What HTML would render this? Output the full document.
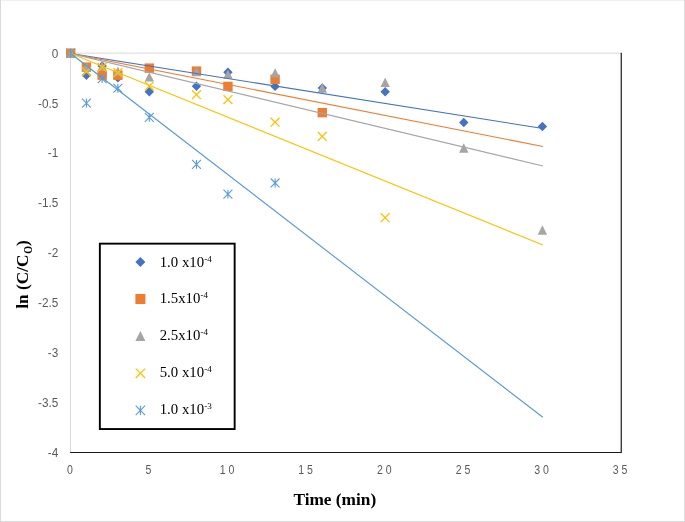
<!DOCTYPE html>
<html><head><meta charset="utf-8"><title>chart</title>
<style>
html,body{margin:0;padding:0;background:#fff;}
body{width:685px;height:522px;overflow:hidden;position:relative;font-family:"Liberation Sans",sans-serif;}
svg{position:absolute;left:0;top:0;display:block;will-change:transform;}
.tk{font-family:"Liberation Sans",sans-serif;font-size:12px;fill:#595959;}
.xt{letter-spacing:3.3px;}
.lg{font-family:"Liberation Serif",serif;font-size:14.8px;fill:#000;}
.sup{font-size:9px;}
.ti{font-family:"Liberation Serif",serif;font-weight:bold;font-size:17.3px;fill:#000;}
</style></head><body>
<svg width="685" height="522" viewBox="0 0 685 522">

<rect x="0" y="0" width="685" height="1" fill="#F0F0F0"/>
<rect x="0" y="0" width="1" height="522" fill="#D9D9D9"/>
<rect x="684" y="0" width="1" height="522" fill="#DCDCDC"/>
<rect x="0" y="521" width="685" height="1" fill="#D9D9D9"/>
<line x1="70.7" y1="53.15" x2="621.0" y2="53.15" stroke="#D9D9D9" stroke-width="1"/>
<line x1="70.55" y1="53.15" x2="70.55" y2="452.5" stroke="#D9D9D9" stroke-width="1"/>
<path d="M621.25 52.75L621.25 452.5L70.1 452.5" stroke="#1a1a1a" stroke-width="1.2" fill="none"/>
<text class="tk" transform="translate(58.3,57.5) scale(0.98,1)" text-anchor="end">0</text>
<text class="tk" transform="translate(58.3,107.5) scale(0.98,1)" text-anchor="end">-0.5</text>
<text class="tk" transform="translate(58.3,157.4) scale(0.98,1)" text-anchor="end">-1</text>
<text class="tk" transform="translate(58.3,207.3) scale(0.98,1)" text-anchor="end">-1.5</text>
<text class="tk" transform="translate(58.3,257.2) scale(0.98,1)" text-anchor="end">-2</text>
<text class="tk" transform="translate(58.3,307.1) scale(0.98,1)" text-anchor="end">-2.5</text>
<text class="tk" transform="translate(58.3,357.1) scale(0.98,1)" text-anchor="end">-3</text>
<text class="tk" transform="translate(58.3,407.0) scale(0.98,1)" text-anchor="end">-3.5</text>
<text class="tk" transform="translate(58.3,456.9) scale(0.98,1)" text-anchor="end">-4</text>
<text class="tk xt" transform="translate(71.3,474.2) scale(0.88,1)" text-anchor="middle">0</text>
<text class="tk xt" transform="translate(149.9,474.2) scale(0.88,1)" text-anchor="middle">5</text>
<text class="tk xt" transform="translate(228.5,474.2) scale(0.88,1)" text-anchor="middle">10</text>
<text class="tk xt" transform="translate(307.1,474.2) scale(0.88,1)" text-anchor="middle">15</text>
<text class="tk xt" transform="translate(385.8,474.2) scale(0.88,1)" text-anchor="middle">20</text>
<text class="tk xt" transform="translate(464.4,474.2) scale(0.88,1)" text-anchor="middle">25</text>
<text class="tk xt" transform="translate(543.0,474.2) scale(0.88,1)" text-anchor="middle">30</text>
<text class="tk xt" transform="translate(621.6,474.2) scale(0.88,1)" text-anchor="middle">35</text>
<path d="M70.70 48.45L75.40 53.15L70.70 57.85L66.00 53.15Z" fill="#4472C4"/>
<path d="M86.42 70.51L91.12 75.21L86.42 79.91L81.72 75.21Z" fill="#4472C4"/>
<path d="M102.15 61.23L106.85 65.93L102.15 70.63L97.45 65.93Z" fill="#4472C4"/>
<path d="M117.87 73.01L122.57 77.71L117.87 82.41L113.17 77.71Z" fill="#4472C4"/>
<path d="M149.31 86.99L154.01 91.69L149.31 96.39L144.61 91.69Z" fill="#4472C4"/>
<path d="M196.48 81.60L201.18 86.30L196.48 91.00L191.78 86.30Z" fill="#4472C4"/>
<path d="M227.93 67.62L232.63 72.32L227.93 77.02L223.23 72.32Z" fill="#4472C4"/>
<path d="M275.10 81.70L279.80 86.40L275.10 91.10L270.40 86.40Z" fill="#4472C4"/>
<path d="M322.27 83.29L326.97 87.99L322.27 92.69L317.57 87.99Z" fill="#4472C4"/>
<path d="M385.16 86.99L389.86 91.69L385.16 96.39L380.46 91.69Z" fill="#4472C4"/>
<path d="M463.77 117.84L468.47 122.54L463.77 127.24L459.07 122.54Z" fill="#4472C4"/>
<path d="M542.39 121.73L547.09 126.43L542.39 131.13L537.69 126.43Z" fill="#4472C4"/>
<rect x="66.00" y="48.45" width="9.40" height="9.40" fill="#ED7D31"/>
<rect x="81.72" y="62.43" width="9.40" height="9.40" fill="#ED7D31"/>
<rect x="97.45" y="70.46" width="9.40" height="9.40" fill="#ED7D31"/>
<rect x="113.17" y="70.47" width="9.40" height="9.40" fill="#ED7D31"/>
<rect x="144.61" y="63.43" width="9.40" height="9.40" fill="#ED7D31"/>
<rect x="191.78" y="66.42" width="9.40" height="9.40" fill="#ED7D31"/>
<rect x="223.23" y="81.70" width="9.40" height="9.40" fill="#ED7D31"/>
<rect x="270.40" y="74.61" width="9.40" height="9.40" fill="#ED7D31"/>
<rect x="317.57" y="107.95" width="9.40" height="9.40" fill="#ED7D31"/>
<path d="M70.70 48.45L75.40 57.85L66.00 57.85Z" fill="#A5A5A5"/>
<path d="M86.42 62.23L91.12 71.63L81.72 71.63Z" fill="#A5A5A5"/>
<path d="M102.15 61.43L106.85 70.83L97.45 70.83Z" fill="#A5A5A5"/>
<path d="M117.87 66.42L122.57 75.82L113.17 75.82Z" fill="#A5A5A5"/>
<path d="M149.31 72.21L154.01 81.61L144.61 81.61Z" fill="#A5A5A5"/>
<path d="M196.48 66.92L201.18 76.32L191.78 76.32Z" fill="#A5A5A5"/>
<path d="M227.93 69.42L232.63 78.82L223.23 78.82Z" fill="#A5A5A5"/>
<path d="M275.10 68.22L279.80 77.62L270.40 77.62Z" fill="#A5A5A5"/>
<path d="M322.27 83.29L326.97 92.69L317.57 92.69Z" fill="#A5A5A5"/>
<path d="M385.16 77.50L389.86 86.90L380.46 86.90Z" fill="#A5A5A5"/>
<path d="M463.77 143.30L468.47 152.70L459.07 152.70Z" fill="#A5A5A5"/>
<path d="M542.39 225.36L547.09 234.76L537.69 234.76Z" fill="#A5A5A5"/>
<path d="M66.25 48.70L75.15 57.60M66.25 57.60L75.15 48.70" stroke="#FFC000" stroke-width="1.3" fill="none"/>
<path d="M81.97 67.27L90.87 76.17M81.97 76.17L90.87 67.27" stroke="#FFC000" stroke-width="1.3" fill="none"/>
<path d="M97.70 62.98L106.60 71.88M97.70 71.88L106.60 62.98" stroke="#FFC000" stroke-width="1.3" fill="none"/>
<path d="M113.42 68.27L122.32 77.17M113.42 77.17L122.32 68.27" stroke="#FFC000" stroke-width="1.3" fill="none"/>
<path d="M144.86 81.65L153.76 90.55M144.86 90.55L153.76 81.65" stroke="#FFC000" stroke-width="1.3" fill="none"/>
<path d="M192.03 90.23L200.93 99.13M192.03 99.13L200.93 90.23" stroke="#FFC000" stroke-width="1.3" fill="none"/>
<path d="M223.48 95.12L232.38 104.02M223.48 104.02L232.38 95.12" stroke="#FFC000" stroke-width="1.3" fill="none"/>
<path d="M270.65 117.69L279.55 126.59M270.65 126.59L279.55 117.69" stroke="#FFC000" stroke-width="1.3" fill="none"/>
<path d="M317.82 131.96L326.72 140.86M317.82 140.86L326.72 131.96" stroke="#FFC000" stroke-width="1.3" fill="none"/>
<path d="M380.71 213.23L389.61 222.13M380.71 222.13L389.61 213.23" stroke="#FFC000" stroke-width="1.3" fill="none"/>
<path d="M66.25 48.70L75.15 57.60M66.25 57.60L75.15 48.70M70.70 48.70L70.70 57.60" stroke="#5B9BD5" stroke-width="1.1" fill="none"/>
<path d="M81.97 98.62L90.87 107.52M81.97 107.52L90.87 98.62M86.42 98.62L86.42 107.52" stroke="#5B9BD5" stroke-width="1.1" fill="none"/>
<path d="M97.70 74.21L106.60 83.11M97.70 83.11L106.60 74.21M102.15 74.21L102.15 83.11" stroke="#5B9BD5" stroke-width="1.1" fill="none"/>
<path d="M113.42 83.79L122.32 92.69M113.42 92.69L122.32 83.79M117.87 83.79L117.87 92.69" stroke="#5B9BD5" stroke-width="1.1" fill="none"/>
<path d="M144.86 112.90L153.76 121.80M144.86 121.80L153.76 112.90M149.31 112.90L149.31 121.80" stroke="#5B9BD5" stroke-width="1.1" fill="none"/>
<path d="M192.03 159.92L200.93 168.82M192.03 168.82L200.93 159.92M196.48 159.92L196.48 168.82" stroke="#5B9BD5" stroke-width="1.1" fill="none"/>
<path d="M223.48 189.67L232.38 198.57M223.48 198.57L232.38 189.67M227.93 189.67L227.93 198.57" stroke="#5B9BD5" stroke-width="1.1" fill="none"/>
<path d="M270.65 178.49L279.55 187.39M270.65 187.39L279.55 178.49M275.10 178.49L275.10 187.39" stroke="#5B9BD5" stroke-width="1.1" fill="none"/>
<line x1="70.70" y1="53.55" x2="542.39" y2="128.43" stroke="#4472C4" stroke-width="1.15" stroke-linecap="square"/>
<line x1="70.70" y1="53.55" x2="542.39" y2="146.40" stroke="#ED7D31" stroke-width="1.15" stroke-linecap="square"/>
<line x1="70.70" y1="53.55" x2="542.39" y2="165.87" stroke="#A5A5A5" stroke-width="1.15" stroke-linecap="square"/>
<line x1="70.70" y1="53.55" x2="542.39" y2="244.74" stroke="#FFC000" stroke-width="1.15" stroke-linecap="square"/>
<line x1="70.70" y1="53.55" x2="542.39" y2="416.96" stroke="#5B9BD5" stroke-width="1.15" stroke-linecap="square"/>
<rect x="99.85" y="243.65" width="134.8" height="185.4" fill="#fff" stroke="#000" stroke-width="1.9"/>
<path d="M140.40 257.10L145.40 262.10L140.40 267.10L135.40 262.10Z" fill="#4472C4"/>
<text class="lg" x="159.7" y="266.6">1.0 x10<tspan class="sup" dy="-5" dx="0.2">-4</tspan></text>
<rect x="135.40" y="294.00" width="10.00" height="10.00" fill="#ED7D31"/>
<text class="lg" x="159.7" y="303.4">1.5x10<tspan class="sup" dy="-5" dx="0.2">-4</tspan></text>
<path d="M140.40 331.10L145.40 341.10L135.40 341.10Z" fill="#A5A5A5"/>
<text class="lg" x="159.7" y="340.3">2.5x10<tspan class="sup" dy="-5" dx="0.2">-4</tspan></text>
<path d="M135.70 368.60L145.10 378.00M135.70 378.00L145.10 368.60" stroke="#FFC000" stroke-width="1.3" fill="none"/>
<text class="lg" x="159.7" y="377.2">5.0 x10<tspan class="sup" dy="-5" dx="0.2">-4</tspan></text>
<path d="M135.70 405.70L145.10 415.10M135.70 415.10L145.10 405.70M140.40 405.70L140.40 415.10" stroke="#5B9BD5" stroke-width="1.1" fill="none"/>
<text class="lg" x="159.7" y="414.0">1.0 x10<tspan class="sup" dy="-5" dx="0.2">-3</tspan></text>
<text class="ti" x="334.8" y="505.3" text-anchor="middle">Time (min)</text>
<g transform="translate(27.6,274.2) rotate(-90)"><text class="ti" x="-34.5" y="0">ln (C/C</text><text class="ti" style="font-size:11.5px" transform="translate(20.5,4.2) scale(0.87,1)">O</text><text class="ti" x="28.2" y="0">)</text></g>
</svg></body></html>
